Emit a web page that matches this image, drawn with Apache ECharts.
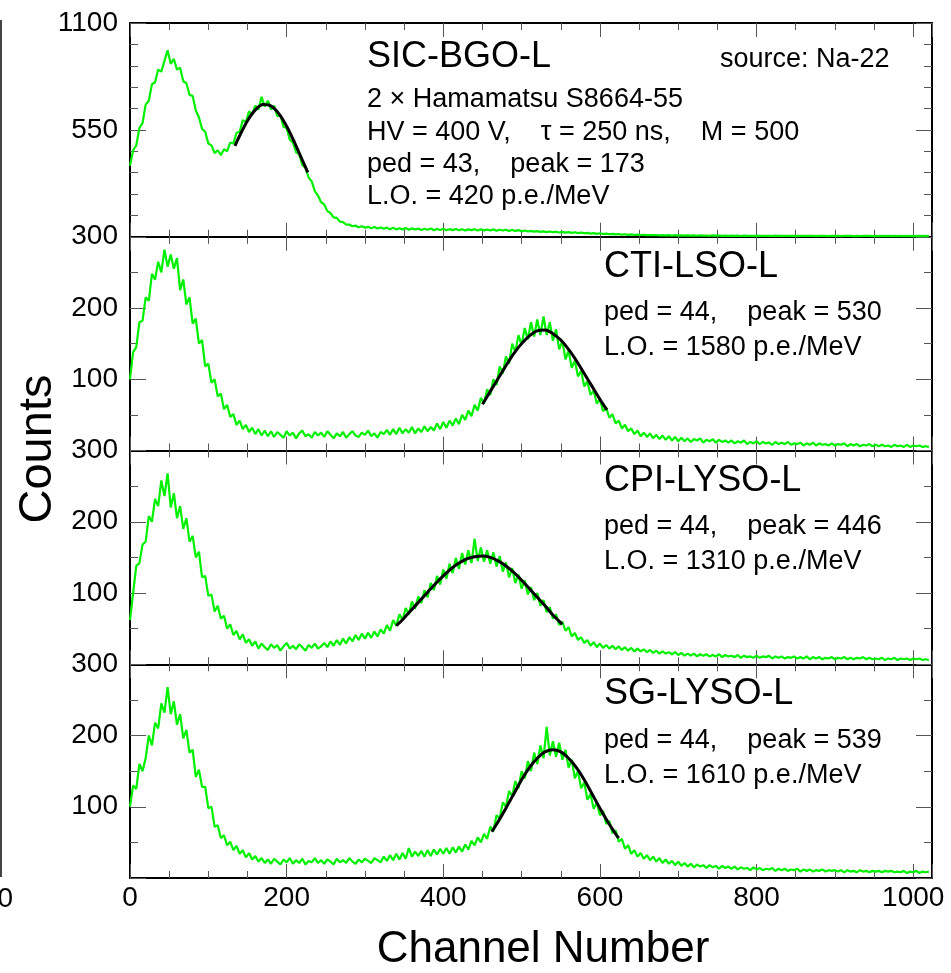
<!DOCTYPE html>
<html><head><meta charset="utf-8">
<script src="https://cdn.jsdelivr.net/npm/echarts@6.0.0/dist/echarts.min.js"></script>
<style>html,body{margin:0;padding:0;background:#fff}#c{width:951px;height:973px}</style>
</head><body><div id="c"></div>
<script>
// ---- data ----
const binWidth = 4; // channels between stored points
const xTickLabels = [0, 200, 400, 600, 800, 1000];
const panelNames = ['SIC-BGO-L', 'CTI-LSO-L', 'CPI-LYSO-L', 'SG-LYSO-L'];

const bgoCounts = [365,445,470,560,585,680,700,785,795,860,850,905,960,890,915,860,870,800,790,730,725,650,615,555,540,480,470,430,445,420,450,440,485,480,535,540,600,590,645,630,675,655,720,670,700,655,675,620,625,565,560,500,485,435,425,370,355,305,285,235,212,178,166,132,122,100,97,78,75,62,63,54,57,49,54,47,
51,44,50,42,48,41,47,39,46,38,44,37,45,36,43,37,42,35,41,36,42,34,40,35,41,33,39,34,40,33,39,32,38,34,39,32,38,33,37,32,38,31,36,32,36,30,35,30,34,28,32,27,
30,26,29,25,28,24,27,23,26,22,25,21,24,20,23,19,22,18,20,16,19,15,18,14,16,13,15,12,14,11,13,10,12,9,11,9,10,8,9,8,9,7,8,7,8,6,8,6,
7,6,7,6,7,5,7,6,6,5,7,6,6,5,6,5,
6,5,6,4,6,5,5,4,6,5,5,4,5,4,6,5,5,4,5,4,5,4,5,4,5,4,5,3,5,4,4,3,5,4,4,3,5,4,4,3,4,3,5,4,4,3,4,3,4,3,4,3,4,3,4,3,4,3,4,3,4,3,4,3];
const ctiLsoCounts = [100,138,145,180,182,215,210,248,240,265,250,282,258,275,255,270,225,240,205,215,178,185,150,155,118,122,95,100,76,80,58,64,47,51,36,42,30,36,26,32,23,30,21,28,20,27,
19,26,22,18,27,21,25,17,24,28,20,23,18,26,21,25,19,27,22,17,24,20,26,18,23,27,21,19,25,22,28,20,24,18,26,23,
29,22,30,23,32,24,30,25,33,24,31,26,34,27,33,28,38,30,40,32,42,35,45,37,50,43,56,48,64,56,74,66,86,78,100,92,118,108,132,122,150,138,162,148,172,156,180,160,184,162,188,162,180,154,170,142,154,128,140,116,126,104,112,90,97,78,84,66,72,55,60,46,51,38,42,31,36,27,31,23,28,20,25,19,24,17,22,16,21,15,20,14,19,13,
18,13,17,12,16,14,17,11,15,13,16,11,15,12,14,11,
14,10,13,11,14,9,12,10,13,9,12,10,11,8,12,9,11,9,12,8,10,9,11,7,10,8,11,7,10,8,9,7,10,7,9,8,10,6,9,7,9,6,8,7,9,6,8,6,8,6,7,5,8,6,7,5,8,5,7,6,7,5,6,5];
const cpiLysoCounts = [62,100,138,142,168,172,208,200,232,222,258,236,268,220,240,205,222,190,205,172,180,150,158,122,124,96,98,74,82,64,68,50,56,41,47,35,42,30,35,26,32,
22,29,24,20,28,23,27,19,25,30,22,26,21,28,24,19,27,23,29,22,
25,30,24,32,26,34,27,36,29,38,32,41,34,43,36,44,37,46,39,49,43,55,47,62,54,70,62,79,70,88,78,95,86,104,94,114,104,124,112,133,120,141,128,149,134,156,140,160,142,176,145,164,144,160,141,157,137,152,130,143,122,135,114,126,106,118,98,108,90,100,82,90,73,80,64,70,55,60,47,52,39,44,34,38,30,34,26,31,24,29,
23,27,22,26,21,25,20,24,19,23,18,22,18,21,17,20,16,19,15,18,15,17,14,17,13,
16,12,15,12,15,11,14,12,14,11,13,11,14,10,13,11,
12,10,13,9,12,10,11,9,12,9,11,10,12,8,11,9,11,8,10,9,11,8,10,8,11,7,10,8,10,7,9,8,10,7,9,8,10,7,9,7,9,8,10,7,9,7,8,7,9,6,8,7,9,6,8,7,8,6,8,7,8,6,7,6];
const sgLysoCounts = [100,130,125,160,150,168,200,186,218,210,245,232,268,230,248,215,230,196,208,176,180,142,152,128,128,98,100,72,74,56,60,46,51,39,45,34,39,29,35,26,31,23,
28,21,26,20,27,23,19,26,22,28,20,25,21,27,19,24,22,28,21,25,20,26,23,19,27,22,25,21,28,23,20,26,22,27,24,21,28,25,22,
30,24,32,25,34,26,35,27,42,30,37,31,38,30,39,31,40,33,41,34,42,34,43,36,44,37,47,40,52,46,57,50,62,55,72,66,88,84,106,100,122,115,136,126,150,140,164,150,176,160,186,168,212,172,192,170,190,166,180,155,166,140,150,126,134,110,118,97,106,88,94,76,80,63,67,51,55,41,46,34,39,30,35,27,32,25,30,23,28,21,26,20,24,18,23,
17,21,16,20,15,19,16,18,14,18,15,17,13,17,14,16,
13,16,12,15,13,14,11,15,12,14,11,13,12,14,10,13,11,13,10,12,11,13,9,12,10,12,9,11,10,12,9,11,10,11,9,11,8,11,9,10,8,11,9,10,8,10,9,10,8,10,9,10,8,9,8,10,7,9,8,10,7,9,8,9];

const bgoFit = [[134,468],[140,520],[150,597],[160,653],[170,680],[180,673],[190,634],[200,569],[210,486],[220,395],[227,331]];
const ctiLsoFit = [[450,65],[460,83],[470,101],[480,119],[490,136],[500,150],[510,161],[520,168],[530,169],[540,164],[550,155],[560,142],[570,126],[580,108],[590,90],[600,72],[609,57]];
const cpiLysoFit = [[340,54],[350,65],[360,77],[370,89],[380,101],[390,113],[400,124],[410,134],[420,142],[430,148],[440,151],[450,152],[460,150],[470,145],[480,138],[490,129],[500,118],[510,106],[520,94],[530,82],[540,69],[552,56]];
const sgLysoFit = [[462,65],[470,79],[480,98],[490,118],[500,138],[510,155],[520,168],[530,177],[540,180],[550,177],[560,168],[570,155],[580,138],[590,118],[600,98],[610,79],[620,62],[624,56]];

const yMax = [1100, 300, 300, 300];
const yInterval = [550, 100, 100, 100];
const yMinorSplit = [5, 2, 2, 2];

// ---- chart ----
const FONT = "'Liberation Sans', Arial, Helvetica, sans-serif";
const counts = [bgoCounts, ctiLsoCounts, cpiLysoCounts, sgLysoCounts];
const fits = [bgoFit, ctiLsoFit, cpiLysoFit, sgLysoFit];
const tops = [23, 236.75, 450.5, 664.25];
const H = 213.75;

const grid = tops.map(t => ({left: 130, right: 19, top: t, height: H, outerBoundsMode: 'none', containLabel: false}));
const tickStyle = {color: '#555', width: 1};
const xAxis = [], yAxis = [], series = [];
for (let i = 0; i < 4; i++) {
  ['bottom', 'top'].forEach(pos => {
    xAxis.push({
      type: 'value', gridIndex: i, position: pos, min: 0, max: 1024, interval: 200,
      axisLine: {show: true, onZero: false, lineStyle: {color: '#000', width: 2}},
      axisTick: {show: true, inside: true, length: 14, lineStyle: tickStyle},
      minorTick: {show: true, splitNumber: 4, length: 7, lineStyle: tickStyle},
      splitLine: {show: false}, minorSplitLine: {show: false},
      axisLabel: {show: pos === 'bottom' && i === 3, margin: 6, fontSize: 28, fontFamily: FONT, color: '#000',
        formatter: v => xTickLabels.includes(v) ? String(v) : ''}
    });
  });
  ['left', 'right'].forEach(pos => {
    yAxis.push({
      type: 'value', gridIndex: i, position: pos, min: 0, max: yMax[i], interval: yInterval[i],
      axisLine: {show: true, onZero: false, lineStyle: {color: '#000', width: 2}},
      axisTick: {show: true, inside: true, length: 16, lineStyle: tickStyle},
      minorTick: {show: true, splitNumber: yMinorSplit[i], length: 8, lineStyle: tickStyle},
      splitLine: {show: false}, minorSplitLine: {show: false},
      axisLabel: {show: pos === 'left', margin: 12, fontSize: 28, fontFamily: FONT, color: '#000',
        formatter: v => v > 0 ? String(v) : ''}
    });
  });
  series.push({
    type: 'line', xAxisIndex: 2 * i, yAxisIndex: 2 * i, symbol: 'none', showSymbol: false,
    data: counts[i].map((v, k) => [k * binWidth, v]),
    lineStyle: {color: '#00f000', width: 2.2}, z: 2, clip: true, animation: false
  });
  series.push({
    type: 'line', xAxisIndex: 2 * i, yAxisIndex: 2 * i, symbol: 'none', showSymbol: false, smooth: 0.3,
    data: fits[i], lineStyle: {color: '#000', width: 3}, z: 3, animation: false
  });
}

function txt(x, y, text, size, align) {
  return {type: 'text', x: x, y: y, z: 10, style: {text: text, fill: '#000', font: size + 'px ' + FONT,
    align: align || 'left', verticalAlign: 'middle'}};
}
const graphic = [
  txt(367, 70 - 12.6, panelNames[0], 36),
  txt(720, 69 - 9.5, 'source: Na-22', 27),
  txt(367, 109 - 9.5, '2 \u00d7 Hamamatsu S8664-55', 27),
  txt(367, 142 - 9.5, 'HV = 400 V,    \u03c4 = 250 ns,    M = 500', 27),
  txt(367, 174 - 9.5, 'ped = 43,    peak = 173', 27),
  txt(367, 206 - 9.5, 'L.O. = 420 p.e./MeV', 27),

  txt(604, 280 - 12.6, panelNames[1], 36),
  txt(604, 322 - 9.5, 'ped = 44,    peak = 530', 27),
  txt(604, 357 - 9.5, 'L.O. = 1580 p.e./MeV', 27),

  txt(604, 494 - 12.6, panelNames[2], 36),
  txt(604, 536 - 9.5, 'ped = 44,    peak = 446', 27),
  txt(604, 571 - 9.5, 'L.O. = 1310 p.e./MeV', 27),

  txt(604, 707 - 12.6, panelNames[3], 36),
  txt(604, 750 - 9.5, 'ped = 44,    peak = 539', 27),
  txt(604, 785 - 9.5, 'L.O. = 1610 p.e./MeV', 27),

  {type: 'text', x: 38, y: 449, rotation: Math.PI / 2, z: 10,
   style: {text: 'Counts', fill: '#000', font: '47px ' + FONT, align: 'center', verticalAlign: 'middle'}},
  txt(543, 950, 'Channel Number', 44, 'center'),
  txt(13, 899.5, '0', 28, 'right'),
  {type: 'line', z: 10, shape: {x1: 1, y1: 20, x2: 1, y2: 877}, style: {stroke: '#444', lineWidth: 2}}
];
counts.forEach((c, i) => { if (c.length !== 256) graphic.push(txt(300, 20 + i * 20, 'LEN ' + i + ' = ' + c.length, 16)); });

const chart = echarts.init(document.getElementById('c'), null, {renderer: 'canvas'});
chart.setOption({animation: false, backgroundColor: '#fff', grid, xAxis, yAxis, series, graphic});
</script></body></html>
